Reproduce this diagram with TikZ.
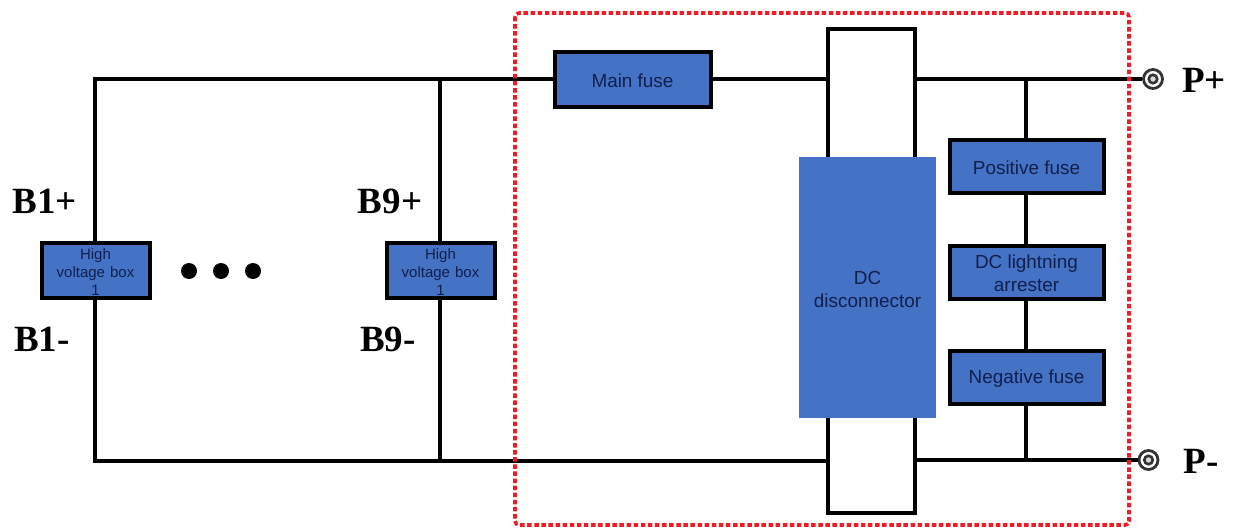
\documentclass[tikz,border=0pt]{standalone}
\usepackage{fontspec}
\setmainfont{Liberation Sans}
\newfontfamily\serifb{Liberation Serif}[BoldFont={Liberation Serif Bold}]
\definecolor{boxblue}{HTML}{4472C4}
\definecolor{boxtext}{HTML}{10204F}
\definecolor{dashred}{HTML}{EE1C25}
\newcommand{\dn}[1]{\raisebox{-1.5pt}[\height][\depth]{#1}}
\tikzset{
  wire/.style={draw=black,line width=4pt},
  bluebox/.style={draw=black,line width=4pt,fill=boxblue,text=boxtext,inner sep=0pt,align=center,font=\fontsize{18.9}{23}\selectfont},
  hvbox/.style={bluebox,minimum width=108pt,minimum height=55pt,text width=100pt,font=\fontsize{15}{18}\selectfont},
  fusebox/.style={bluebox,minimum width=154pt,minimum height=53pt},
  lab/.style={inner sep=0pt,font=\serifb\bfseries\fontsize{37}{37}\selectfont,text=black},
  terminal/.style={circle,draw=black!80,line width=2.8pt,fill=white,minimum size=19pt,inner sep=0pt},
  terminalcore/.style={circle,draw=black!80,line width=2.6pt,fill=black!15,minimum size=8.5pt,inner sep=0pt},
  bigdot/.style={circle,fill=black,minimum size=16pt,inner sep=0pt},
  redframe/.style={draw=dashred,line width=3.6pt,dash pattern=on 4.5pt off 2.6pt,rounded corners=4pt}
}
\begin{document}
\begin{tikzpicture}[x=1pt,y=-1pt]
\useasboundingbox[fill=white] (0,0) rectangle (1233,527);

% named points on the wires
\coordinate (tl) at (95,79);
\coordinate (bl) at (95,461);
\coordinate (t9) at (440,79);
\coordinate (b9) at (440,461);
\coordinate (tj) at (1026,79);
\coordinate (bj) at (1026,460);

% disconnector body
\node[draw=black,line width=4pt,fill=white,minimum width=87pt,minimum height=484pt,inner sep=0pt] (sw) at (871.5,271) {};
\coordinate (swtl) at (828,79);
\coordinate (swbl) at (828,461);
\coordinate (swtr) at (915,79);
\coordinate (swbr) at (915,460);

% terminals
\node[terminal] (pp) at (1153,79) {};
\node[terminal] (pm) at (1148.5,460) {};
\node[terminalcore] (ppc) at (1153,79) {};
\node[terminalcore] (pmc) at (1148.5,460) {};

% wires
\draw[wire,line cap=rect] (bl) -- (tl);
\draw[wire] (tl) -- (swtl);
\draw[wire] (bl) -- (swbl);
\draw[wire] (t9) -- (b9);
\draw[wire] (swtr) -- (pp);
\draw[wire] (swbr) -- (pm);
\draw[wire,line cap=round] (tj) -- (bj);

% boxes
\node[bluebox,minimum width=156pt,minimum height=54pt] (main) at (632.5,79.5) {\dn{Main fuse}};
\node[hvbox] (hv1) at (95.5,270.5) {\dn{High}\\\dn{voltage box}\\\dn{1}};
\node[hvbox] (hv9) at (440.5,270.5) {\dn{High}\\\dn{voltage box}\\\dn{1}};
\node[fusebox] (pf) at (1026.5,166.5) {\dn{Positive fuse}};
\node[fusebox] (la) at (1026.5,272) {\dn{DC lightning}\\\dn{arrester}};
\node[fusebox] (nf) at (1026.5,377.5) {\dn{Negative fuse}};
\node[fill=boxblue,text=boxtext,minimum width=137pt,minimum height=261pt,inner sep=0pt,align=center,font=\fontsize{18.9}{23}\selectfont] (dc) at (867.5,287.5) {\dn{DC}\\\dn{disconnector}};

% dots
\node[bigdot] (d1) at (189,271) {};
\node[bigdot] (d2) at (221,271) {};
\node[bigdot] (d3) at (253,271) {};

% labels
\node[lab] (b1p) at (44.5,201) {B1+};
\node[lab] (b1m) at (42,339) {B1-};
\node[lab] (b9p) at (390,201) {B9+};
\node[lab] (b9m) at (388,339) {B9-};
\node[lab] (ppl) at (1204,80) {P+};
\node[lab] (pml) at (1201,461) {P-};

% red frame
\draw[redframe] (515,13) rectangle (1129,525);
\end{tikzpicture}
\end{document}
